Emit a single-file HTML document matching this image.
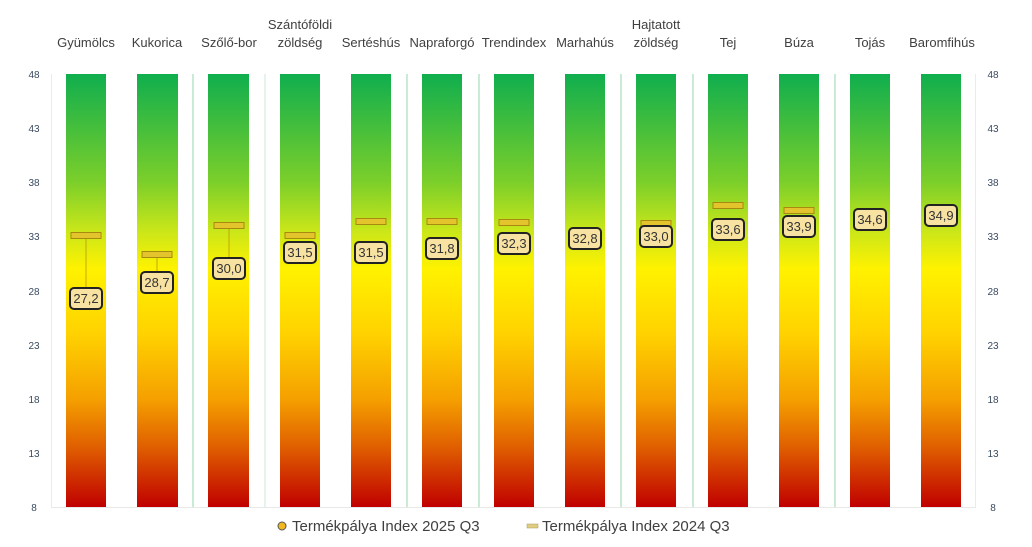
<!DOCTYPE html>
<html><head><meta charset="utf-8"><style>
body{margin:0;background:#fff;}
svg text{font-family:"Liberation Sans",sans-serif;}
</style></head><body>
<svg width="1032" height="542" xmlns="http://www.w3.org/2000/svg">
<defs>
<linearGradient id="g" x1="0" y1="74" x2="0" y2="507" gradientUnits="userSpaceOnUse">
<stop offset="0" stop-color="#0fae4e"/>
<stop offset="0.25" stop-color="#7ccf2a"/>
<stop offset="0.36" stop-color="#c8e61a"/>
<stop offset="0.45" stop-color="#fff200"/>
<stop offset="0.6" stop-color="#ffd200"/>
<stop offset="0.75" stop-color="#f5a000"/>
<stop offset="0.86" stop-color="#e06000"/>
<stop offset="1" stop-color="#c00000"/>
</linearGradient>
</defs>
<g stroke="#e4efe8" stroke-width="1">
<line x1="51.5" y1="74" x2="51.5" y2="507"/>
<line x1="975.5" y1="74" x2="975.5" y2="507"/>
<line x1="51" y1="507.5" x2="976" y2="507.5" stroke="#e8e8e8"/>
</g>
<g stroke="#a8dcbc" stroke-width="1.2">
<line x1="193" y1="74" x2="193" y2="507"/>
<line x1="265" y1="74" x2="265" y2="507" stroke="#d4ecdc"/>
<line x1="407" y1="74" x2="407" y2="507"/>
<line x1="479" y1="74" x2="479" y2="507"/>
<line x1="621" y1="74" x2="621" y2="507"/>
<line x1="693" y1="74" x2="693" y2="507"/>
<line x1="835" y1="74" x2="835" y2="507"/>
</g>
<g fill="url(#g)">
<rect x="66" y="74" width="40" height="433"/>
<rect x="137" y="74" width="41" height="433"/>
<rect x="208" y="74" width="41" height="433"/>
<rect x="280" y="74" width="40" height="433"/>
<rect x="351" y="74" width="40" height="433"/>
<rect x="422" y="74" width="40" height="433"/>
<rect x="494" y="74" width="40" height="433"/>
<rect x="565" y="74" width="40" height="433"/>
<rect x="636" y="74" width="40" height="433"/>
<rect x="708" y="74" width="40" height="433"/>
<rect x="779" y="74" width="40" height="433"/>
<rect x="850" y="74" width="40" height="433"/>
<rect x="921" y="74" width="40" height="433"/>
</g>
<g font-size="10" fill="#3a4a60" text-anchor="middle">
<text x="34" y="78">48</text><text x="34" y="132">43</text><text x="34" y="186">38</text><text x="34" y="240">33</text><text x="34" y="295">28</text><text x="34" y="349">23</text><text x="34" y="403">18</text><text x="34" y="457">13</text><text x="34" y="511">8</text>
<text x="993" y="78">48</text><text x="993" y="132">43</text><text x="993" y="186">38</text><text x="993" y="240">33</text><text x="993" y="295">28</text><text x="993" y="349">23</text><text x="993" y="403">18</text><text x="993" y="457">13</text><text x="993" y="511">8</text>
</g>
<g font-size="13" fill="#404040" text-anchor="middle">
<text x="86" y="47">Gyümölcs</text>
<text x="157" y="47">Kukorica</text>
<text x="229" y="47">Szőlő-bor</text>
<text x="300" y="29">Szántóföldi</text><text x="300" y="47">zöldség</text>
<text x="371" y="47">Sertéshús</text>
<text x="442" y="47">Napraforgó</text>
<text x="514" y="47">Trendindex</text>
<text x="585" y="47">Marhahús</text>
<text x="656" y="29">Hajtatott</text><text x="656" y="47">zöldség</text>
<text x="728" y="47">Tej</text>
<text x="799" y="47">Búza</text>
<text x="870" y="47">Tojás</text>
<text x="942" y="47">Baromfihús</text>
</g>
<g stroke="#b89a00" stroke-width="0.8">
<line x1="86" y1="236" x2="86" y2="299"/>
<line x1="157" y1="255" x2="157" y2="283"/>
<line x1="229" y1="226" x2="229" y2="269"/>
</g>
<g fill="#e3c42c" stroke="#a88a10" stroke-width="1">
<rect x="71" y="232.5" width="30" height="6"/>
<rect x="142" y="251.5" width="30" height="6"/>
<rect x="214" y="222.5" width="30" height="6"/>
<rect x="285" y="232.5" width="30" height="6"/>
<rect x="356" y="218.5" width="30" height="6"/>
<rect x="427" y="218.5" width="30" height="6"/>
<rect x="499" y="219.5" width="30" height="6"/>
<rect x="641" y="220.5" width="30" height="6"/>
<rect x="713" y="202.5" width="30" height="6"/>
<rect x="784" y="207.5" width="30" height="6"/>
</g>
<g fill="#f8e2a2" stroke="#222" stroke-width="2">
<rect x="70" y="288" width="32" height="21" rx="4"/>
<rect x="141" y="272" width="32" height="21" rx="4"/>
<rect x="213" y="258" width="32" height="21" rx="4"/>
<rect x="284" y="242" width="32" height="21" rx="4"/>
<rect x="355" y="242" width="32" height="21" rx="4"/>
<rect x="426" y="238" width="32" height="21" rx="4"/>
<rect x="498" y="233" width="32" height="21" rx="4"/>
<rect x="569" y="228" width="32" height="21" rx="4"/>
<rect x="640" y="226" width="32" height="21" rx="4"/>
<rect x="712" y="219" width="32" height="21" rx="4"/>
<rect x="783" y="216" width="32" height="21" rx="4"/>
<rect x="854" y="209" width="32" height="21" rx="4"/>
<rect x="925" y="205" width="32" height="21" rx="4"/>
</g>
<g font-size="13" fill="#333" text-anchor="middle">
<text x="86" y="303">27,2</text>
<text x="157" y="287">28,7</text>
<text x="229" y="273">30,0</text>
<text x="300" y="257">31,5</text>
<text x="371" y="257">31,5</text>
<text x="442" y="253">31,8</text>
<text x="514" y="248">32,3</text>
<text x="585" y="243">32,8</text>
<text x="656" y="241">33,0</text>
<text x="728" y="234">33,6</text>
<text x="799" y="231">33,9</text>
<text x="870" y="224">34,6</text>
<text x="941" y="220">34,9</text>
</g>
<circle cx="282" cy="526" r="4" fill="#f0b91e" stroke="#555" stroke-width="1"/>
<text x="292" y="531" font-size="15" fill="#404040">Termékpálya Index 2025 Q3</text>
<rect x="527" y="524" width="11" height="4" fill="#e0cd80" stroke="#a89a60" stroke-width="0.5"/>
<text x="542" y="531" font-size="15" fill="#404040">Termékpálya Index 2024 Q3</text>
</svg>
</body></html>
